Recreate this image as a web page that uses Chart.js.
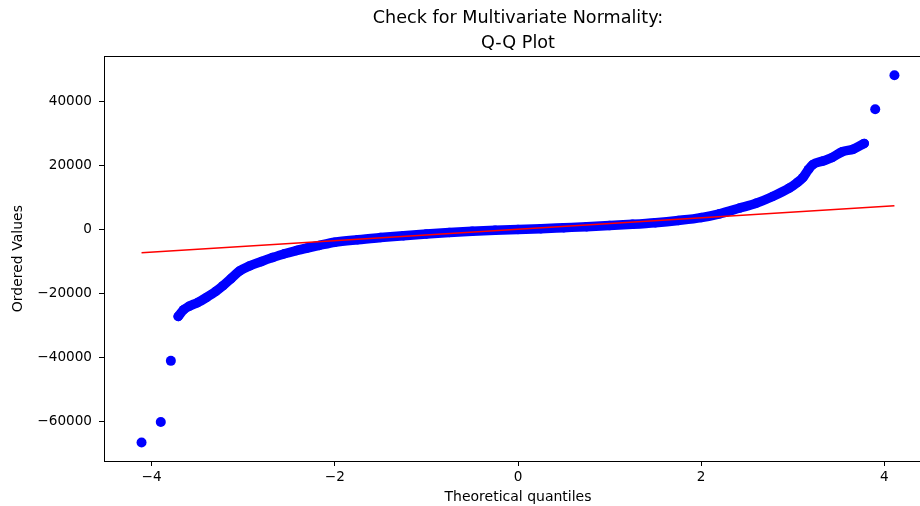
<!DOCTYPE html>
<html><head><meta charset="utf-8">
<script src="https://cdn.jsdelivr.net/npm/chart.js@4.4.0/dist/chart.umd.min.js"></script>
<style>html,body{margin:0;padding:0;background:#fff;overflow:hidden}#wrap{width:920px;height:506px;overflow:hidden;position:relative;background:#fff}canvas{display:block}</style>
</head><body><div id="wrap"><canvas id="c" width="940" height="506" style="width:940px;height:506px"></canvas></div>
<script>
const titleLines = ['Check for Multivariate Normality:', 'Q-Q Plot'];
const xLabel = 'Theoretical quantiles';
const yLabel = 'Ordered Values';
const xTicks = [-4, -2, 0, 2, 4];
const yTicks = [-60000, -40000, -20000, 0, 20000, 40000];

// main band of ordered values
const bandX = [-3.71,-3.65,-3.59,-3.50,-3.40,-3.30,-3.22,-3.13,-3.04,-2.93,-2.80,-2.68,-2.55,-2.42,-2.30,-2.17,-2.00,-1.75,-1.50,-1.25,-1.00,-0.75,-0.50,-0.25,0.00,0.25,0.50,0.75,1.00,1.25,1.50,1.75,2.00,2.20,2.42,2.60,2.78,2.96,3.05,3.11,3.17,3.22,3.33,3.43,3.54,3.66,3.78];
const bandY = [-27100,-25000,-23900,-22800,-21150,-19300,-17500,-15200,-12900,-11300,-9900,-8700,-7500,-6500,-5700,-4900,-3900,-3100,-2450,-1850,-1300,-850,-450,-150,100,350,650,950,1300,1700,2200,2900,3800,5000,6800,8300,10400,13000,14800,16300,18800,20400,21500,22600,24400,25200,27000];

// isolated extreme points
const outX = [-4.11, -3.90, -3.79, 3.90, 4.11];
const outY = [-66500, -60100, -41000, 37700, 48300];

// fitted reference line
const lineX = [-4.11, 4.11];
const lineY = [-7210, 7520];

const FONT = 'DejaVu Sans';
const fmt = v => (v < 0 ? '\u2212' : '') + Math.abs(v);
const tickFont = {family: FONT, size: 13.6};
const labelFont = {family: FONT, size: 14};

const frame = {
  id: 'frame',
  afterDatasetsDraw(chart) {
    const a = chart.chartArea, ctx = chart.ctx;
    ctx.save();
    ctx.strokeStyle = '#000';
    ctx.lineWidth = 1;
    ctx.strokeRect(Math.round(a.left) + 0.5, Math.round(a.top) + 0.5, Math.round(a.right - a.left), Math.round(a.bottom - a.top));
    ctx.restore();
  }
};

new Chart(document.getElementById('c'), {
  type: 'scatter',
  data: {
    datasets: [
      {
        data: lineX.map((x, i) => ({x, y: lineY[i]})),
        showLine: true, borderColor: '#ff0000', borderWidth: 1.6, pointRadius: 0, fill: false
      },
      {
        data: outX.map((x, i) => ({x, y: outY[i]})),
        showLine: false, pointRadius: 5, pointBackgroundColor: '#0000ff', pointBorderWidth: 0
      },
      {
        data: bandX.map((x, i) => ({x, y: bandY[i]})),
        showLine: true, borderColor: '#0000ff', borderWidth: 9.5, cubicInterpolationMode: 'monotone',
        borderCapStyle: 'round', borderJoinStyle: 'round',
        pointRadius: 4.75, pointBackgroundColor: '#0000ff', pointBorderWidth: 0
      }
    ]
  },
  options: {
    responsive: false, animation: false, devicePixelRatio: 1,
    layout: {padding: {left: 0, right: 8, top: 0, bottom: 0}},
    plugins: {
      legend: {display: false}, tooltip: {enabled: false},
      title: {display: true, text: titleLines, color: '#000', fullSize: false,
        font: {family: FONT, size: 17.6, weight: 'normal', lineHeight: 1.4}, padding: {top: 6, bottom: 1}}
    },
    scales: {
      x: {
        type: 'linear', min: -4.52, max: 4.52,
        afterBuildTicks: s => { s.ticks = xTicks.map(v => ({value: v})); },
        afterFit: s => { s.height = 45; },
        ticks: {callback: v => fmt(v), font: tickFont, color: '#000', padding: 3, maxRotation: 0, autoSkip: false},
        grid: {drawOnChartArea: false, drawTicks: true, tickLength: 5, color: '#000', lineWidth: 1},
        border: {display: true, color: '#000', width: 1},
        title: {display: true, text: xLabel, color: '#000', font: labelFont, padding: {top: 0, bottom: 0}}
      },
      y: {
        type: 'linear', min: -72313, max: 54253,
        afterBuildTicks: s => { s.ticks = yTicks.map(v => ({value: v})); },
        afterFit: s => { s.width = 104; },
        ticks: {callback: v => fmt(v), font: tickFont, color: '#000', padding: 7, autoSkip: false},
        grid: {drawOnChartArea: false, drawTicks: true, tickLength: 5, color: '#000', lineWidth: 1},
        border: {display: true, color: '#000', width: 1},
        title: {display: true, text: yLabel, color: '#000', font: labelFont, padding: {top: 10, bottom: 0}}
      }
    }
  },
  plugins: [frame]
});
</script></body></html>
